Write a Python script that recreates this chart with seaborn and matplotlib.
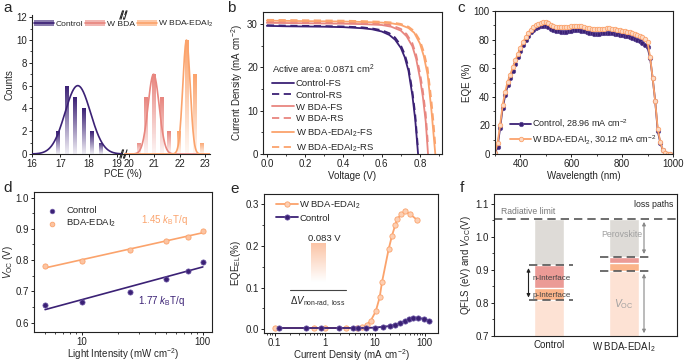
import numpy as np
import matplotlib
matplotlib.use("Agg")
import matplotlib.pyplot as plt
import seaborn as sns
from matplotlib.colors import LinearSegmentedColormap, to_rgb
from matplotlib.lines import Line2D
from matplotlib.patches import Patch
from matplotlib.legend_handler import HandlerTuple
from matplotlib.ticker import MultipleLocator, FuncFormatter, NullFormatter, LogLocator

# ---------------- data ----------------
# a: PCE histograms (bin centre / counts) and gaussian fit parameters (centre, sigma, height)
ctrl_pce = [16.92, 17.22, 17.52, 17.82, 18.12, 18.42]
ctrl_counts = [2, 6, 5, 4, 2, 1]
bda_pce = [20.37, 20.67, 20.97, 21.27, 21.57]
bda_counts = [1, 5, 7, 5, 2]
edai_pce = [21.97, 22.27, 22.57, 22.87]
edai_counts = [2, 10, 7, 1]
ctrl_fit = (17.62, 0.45, 6.0)
bda_fit = (20.97, 0.22, 7.0)
edai_fit = (22.27, 0.145, 10.0)

# b: J-V curves
v_ctrl = [0.0, 0.1, 0.2, 0.3, 0.4, 0.5, 0.55, 0.6, 0.64, 0.67, 0.70, 0.72, 0.74, 0.76, 0.775, 0.79]
j_ctrl_fs = [29.6, 29.5, 29.45, 29.4, 29.3, 29.05, 28.8, 28.3, 27.5, 26.4, 24.5, 22.4, 19.2, 13.6, 8.0, 0.0]
j_ctrl_rs = [29.75, 29.65, 29.6, 29.55, 29.45, 29.25, 29.0, 28.6, 27.9, 26.9, 25.1, 23.1, 20.0, 14.6, 9.2, 1.0]
v_bda = [0.0, 0.1, 0.2, 0.3, 0.4, 0.5, 0.6, 0.65, 0.7, 0.73, 0.76, 0.78, 0.80, 0.815, 0.83, 0.842]
j_bda_fs = [30.3, 30.25, 30.2, 30.15, 30.1, 30.0, 29.8, 29.4, 28.5, 27.2, 24.9, 22.0, 17.5, 13.2, 7.5, 0.0]
j_bda_rs = [30.6, 30.55, 30.5, 30.45, 30.4, 30.3, 30.1, 29.75, 28.9, 27.7, 25.6, 22.9, 18.7, 14.6, 9.2, 2.0]
v_edai = [0.0, 0.1, 0.2, 0.3, 0.4, 0.5, 0.6, 0.65, 0.7, 0.74, 0.77, 0.80, 0.82, 0.84, 0.86, 0.87, 0.88]
j_edai_fs = [30.8, 30.75, 30.7, 30.65, 30.6, 30.5, 30.35, 30.2, 29.8, 29.1, 28.0, 25.5, 22.6, 18.3, 10.0, 5.0, 0.0]
j_edai_rs = [31.0, 30.95, 30.9, 30.85, 30.8, 30.7, 30.55, 30.4, 30.05, 29.4, 28.4, 26.2, 23.6, 19.8, 12.2, 7.5, 2.0]

# c: EQE spectra, 300-990 nm every 10 nm
wl = np.arange(300, 1000, 10)
eqe_ctrl = [0.5, 5, 18, 32, 41, 48, 53, 58, 63, 68,
            72, 76, 79.5, 82.5, 85, 87, 88, 88.8, 89.3, 89.5,
            89.3, 88.5, 87.5, 86.7, 86.2, 85.9, 85.6, 85.4, 85.5, 85.8,
            86.2, 86.5, 86.7, 86.6, 86.2, 85.7, 85.2, 84.8, 84.4, 84.1,
            84.0, 84.1, 84.3, 84.5, 84.7, 84.7, 84.4, 84.0, 83.6, 83.3,
            83.1, 82.8, 82.4, 82.0, 81.4, 80.7, 80.0, 79.0, 77.8, 76.3,
            74.5, 67, 53, 37, 16, 8, 2.5, 0.6, 0.1, 0]
eqe_edai = [1, 7.5, 20, 34, 43.5, 50.5, 55.5, 60.5, 65.5, 70,
            74, 78, 81.5, 84.5, 87, 89, 90.3, 91.2, 91.8, 92.1,
            92.0, 91.3, 90.4, 89.6, 89.1, 88.8, 88.6, 88.5, 88.6, 88.9,
            89.3, 89.6, 89.8, 89.7, 89.4, 88.9, 88.4, 88.0, 87.6, 87.3,
            87.2, 87.2, 87.4, 87.6, 87.8, 87.8, 87.5, 87.1, 86.8, 86.5,
            86.3, 86.0, 85.6, 85.2, 84.7, 84.1, 83.5, 82.7, 81.7, 80.3,
            78.0, 68, 53, 37, 17.5, 8.5, 2.8, 0.7, 0.2, 0]

# d: Voc vs light intensity
light_int = [5, 10, 25, 50, 75, 100]
voc_ctrl = [0.656, 0.667, 0.698, 0.740, 0.764, 0.795]
voc_edai = [0.780, 0.797, 0.833, 0.861, 0.873, 0.894]

# e: EQE_EL vs current density
cd_edai = [0.1, 0.6, 1.0, 2.7, 4.5, 5.5, 7.0, 8.3, 10.5, 12.6, 14.0, 19.0, 22.2, 25.9, 28.3, 34.2, 41.1, 51.8, 70.2]
eqel_edai = [0.003, 0.003, 0.003, 0.003, 0.003, 0.005, 0.011, 0.02, 0.043, 0.077, 0.113, 0.192, 0.225,
             0.251, 0.265, 0.277, 0.283, 0.276, 0.263]
cd_ctrl = [0.12, 0.42, 0.86, 1.93, 3.6, 4.6, 6.8, 10.0, 14.9, 20.6, 25.5, 31.6, 39.8, 48.6, 59.4, 73.8, 98, 121]
eqel_ctrl = [0.003, 0.003, 0.003, 0.003, 0.003, 0.003, 0.003, 0.004, 0.006, 0.008, 0.011, 0.015, 0.02,
             0.025, 0.027, 0.027, 0.025, 0.021]

# f: loss paths (segment tops)
f_groups = ["Control", "W BDA-EDAI$_2$"]
rad_limit = [1.054, 1.054]
n_top = [0.914, 0.94]
p_top = [0.844, 0.92]
voc_f = [0.808, 0.897]

# ---------------- style ----------------
sns.set_theme(style="ticks")
plt.rcParams.update({
    "font.family": ["Liberation Sans", "DejaVu Sans"],
    "mathtext.fontset": "custom",
    "mathtext.rm": "Liberation Sans",
    "mathtext.it": "Liberation Sans:italic",
    "mathtext.bf": "Liberation Sans:bold",
    "font.size": 7,
    "axes.labelsize": 7,
    "xtick.labelsize": 7,
    "ytick.labelsize": 7,
    "legend.fontsize": 6.8,
    "axes.linewidth": 0.8,
    "axes.edgecolor": "#222222",
    "xtick.color": "#222222",
    "ytick.color": "#222222",
    "xtick.major.size": 2.5, "ytick.major.size": 2.5,
    "xtick.minor.size": 1.5, "ytick.minor.size": 1.5,
    "xtick.major.width": 0.7, "ytick.major.width": 0.7,
    "xtick.minor.width": 0.6, "ytick.minor.width": 0.6,
    "xtick.major.pad": 1.2, "ytick.major.pad": 1.2,
    "axes.labelpad": 1.5,
})

PURPLE = "#3b2175"
SALMON = "#e8867f"
ORANGE = "#fba36c"

W, H = 685, 363
fig = plt.figure(figsize=(6.85, 3.63), dpi=100)


def box(l, t, r, b):
    return [l / W, 1 - b / H, (r - l) / W, (b - t) / H]


def tint(c, f):
    r = np.array(to_rgb(c))
    return tuple(1 - f * (1 - r))


def gradient_bars(ax, xs, hs, color, width):
    bars = ax.bar(xs, hs, width=width, color="none", edgecolor="none", zorder=2)
    cmap = LinearSegmentedColormap.from_list("g", [tint(color, 0.08), color])
    grad = np.linspace(0, 1, 64).reshape(-1, 1)
    for b in bars:
        x0, y0 = b.get_x(), b.get_y()
        im = ax.imshow(grad, cmap=cmap, origin="lower", aspect="auto", zorder=2,
                       extent=(x0, x0 + b.get_width(), y0, y0 + b.get_height()))
        im.set_clip_path(b)


def gauss_curve(ax, fit, lo, hi, color):
    mu, sig, amp = fit
    xx = np.linspace(lo, hi, 300)
    sns.lineplot(x=xx, y=amp * np.exp(-(xx - mu) ** 2 / (2 * sig ** 2)), ax=ax, color=color, lw=1.2, zorder=3)


# ---------------- a ----------------
axL = fig.add_axes(box(32, 15, 123, 154))
axR = fig.add_axes(box(124, 15, 210, 154))
gradient_bars(axL, ctrl_pce, ctrl_counts, PURPLE, 0.11)
gradient_bars(axR, bda_pce, bda_counts, SALMON, 0.12)
gradient_bars(axR, edai_pce, edai_counts, ORANGE, 0.12)
gauss_curve(axL, ctrl_fit, 16.0, 19.22, PURPLE)
gauss_curve(axR, bda_fit, 19.8, 23.2, SALMON)
gauss_curve(axR, edai_fit, 19.8, 23.2, ORANGE)
axL.set_xlim(16, 19.22)
axR.set_xlim(19.8, 23.2)
for a_ in (axL, axR):
    a_.set_ylim(0, 12.2)
    a_.spines[["top", "right"]].set_visible(False)
axR.spines["left"].set_visible(False)
axR.tick_params(axis="y", left=False, labelleft=False)
axL.xaxis.set_major_locator(MultipleLocator(1))
axR.xaxis.set_major_locator(MultipleLocator(1))
axL.yaxis.set_major_locator(MultipleLocator(2))
axL.yaxis.set_minor_locator(MultipleLocator(1))
axL.set_ylabel("Counts")
axL.set_xlabel("PCE (%)")
axL.xaxis.set_label_coords(1.0, -0.11)
for a_, xx in ((axL, 1.0), (axR, 0.0)):
    for yy in (0, 1):
        for dx in (-0.02, 0.02):
            a_.plot([xx + dx - 0.015, xx + dx + 0.015], [yy - 0.03, yy + 0.03], transform=a_.transAxes,
                    color="#222222", lw=0.8, clip_on=False)
leg_a = [(Patch(facecolor=tint(c, 0.6), edgecolor="none"), Line2D([], [], color=c, lw=1.2)) for c in (PURPLE, SALMON, ORANGE)]
fig.legend(leg_a, ["Control", "W BDA", "W BDA-EDAI$_2$"], handler_map={tuple: HandlerTuple(ndivide=1)},
           loc="center", bbox_to_anchor=(124 / W, 1 - 24 / H), ncol=3, frameon=False, handlelength=2.3,
           columnspacing=0.3, handletextpad=0.2, fontsize=6.1)

# ---------------- b ----------------
axb = fig.add_axes(box(263, 12, 442, 154))
dash = (0, (4, 2.5))
jv = [("Control-FS", v_ctrl, j_ctrl_fs, PURPLE, "-"),
      ("Control-RS", v_ctrl, j_ctrl_rs, PURPLE, dash),
      ("W BDA-FS", v_bda, j_bda_fs, SALMON, "-"),
      ("W BDA-RS", v_bda, j_bda_rs, SALMON, dash),
      ("W BDA-EDAI$_2$-FS", v_edai, j_edai_fs, ORANGE, "-"),
      ("W BDA-EDAI$_2$-RS", v_edai, j_edai_rs, ORANGE, dash)]
for lab, v, j, c, ls in jv:
    sns.lineplot(x=v, y=j, ax=axb, color=c, linestyle=ls, lw=1.3, label=lab, sort=False, estimator=None)
axb.set_xlim(-0.02, 0.915)
axb.set_ylim(0, 32.8)
axb.xaxis.set_major_locator(MultipleLocator(0.2))
axb.xaxis.set_minor_locator(MultipleLocator(0.1))
axb.yaxis.set_major_locator(MultipleLocator(10))
axb.yaxis.set_minor_locator(MultipleLocator(5))
axb.set_xlabel("Voltage (V)")
axb.set_ylabel("Current Density (mA cm$^{-2}$)")
leg = axb.legend(title="Active area: 0.0871 cm$^2$", loc="lower left", bbox_to_anchor=(0.0, -0.06), frameon=False,
                 handlelength=2.4, labelspacing=0.3, handletextpad=0.15, title_fontsize=6.8)
leg._legend_box.align = "left"

# ---------------- c ----------------
axc = fig.add_axes(box(495, 11, 673, 154))
sns.lineplot(x=wl, y=eqe_ctrl, ax=axc, color=PURPLE, lw=1.3, marker="o", markersize=3.2,
             markerfacecolor=PURPLE, markeredgecolor="#5b4593", markeredgewidth=0.5,
             label="Control, 28.96 mA cm$^{-2}$")
sns.lineplot(x=wl, y=eqe_edai, ax=axc, color=ORANGE, lw=1.3, marker="o", markersize=3.2,
             markerfacecolor="#fdd9c3", markeredgecolor=ORANGE, markeredgewidth=0.6,
             label="W BDA-EDAI$_2$, 30.12 mA cm$^{-2}$")
axc.set_xlim(300, 1000)
axc.set_ylim(0, 100)
axc.xaxis.set_major_locator(MultipleLocator(200))
axc.xaxis.set_minor_locator(MultipleLocator(100))
axc.yaxis.set_major_locator(MultipleLocator(20))
axc.yaxis.set_minor_locator(MultipleLocator(10))
axc.set_xlabel("Wavelength (nm)")
axc.set_ylabel("EQE (%)")
axc.legend(loc="lower left", bbox_to_anchor=(0.04, 0.0), frameon=False, handlelength=2.3,
           handletextpad=0.1, labelspacing=0.35, fontsize=6.5)

# ---------------- d ----------------
axd = fig.add_axes(box(34, 192, 212, 332))
axd.set_xscale("log")
sns.regplot(x=light_int, y=voc_ctrl, logx=True, ci=None, scatter=False, truncate=True, ax=axd,
            line_kws=dict(color=PURPLE, lw=1.2))
sns.regplot(x=light_int, y=voc_edai, logx=True, ci=None, scatter=False, truncate=True, ax=axd,
            line_kws=dict(color=ORANGE, lw=1.2))
sns.scatterplot(x=light_int, y=voc_ctrl, ax=axd, color=PURPLE, edgecolor="#6f5aa8", linewidth=0.5, s=14,
                label="Control", zorder=4)
sns.scatterplot(x=light_int, y=voc_edai, ax=axd, color="#fcc4a2", edgecolor=ORANGE, linewidth=0.6, s=14,
                label="BDA-EDAI$_2$", zorder=4)
axd.set_xlim(4.05, 119)
axd.set_ylim(0.57, 1.018)
axd.xaxis.set_major_locator(LogLocator(base=10))
axd.xaxis.set_minor_locator(LogLocator(base=10, subs=np.arange(2, 10)))
axd.xaxis.set_major_formatter(FuncFormatter(lambda v, p: f"{v:g}"))
axd.xaxis.set_minor_formatter(NullFormatter())
axd.yaxis.set_major_locator(MultipleLocator(0.1))
axd.yaxis.set_minor_locator(MultipleLocator(0.05))
axd.set_xlabel("Light Intensity (mW cm$^{-2}$)", labelpad=-0.5)
axd.set_ylabel("$V_{\\rm OC}$ (V)", labelpad=0.5)
axd.legend(loc="upper left", bbox_to_anchor=(0.0, 0.96), frameon=False, handletextpad=0.5,
           labelspacing=0.2, markerscale=0.9)
axd.text(0.866, 0.8, "1.45 $k_{\\rm B}$T/q", color=ORANGE, transform=axd.transAxes, ha="right", va="center", fontsize=7)
axd.text(0.85, 0.22, "1.77 $k_{\\rm B}$T/q", color=PURPLE, transform=axd.transAxes, ha="right", va="center", fontsize=7)

# ---------------- e ----------------
axe = fig.add_axes(box(264, 194, 438, 333))
axe.set_xscale("log")
sns.lineplot(x=cd_edai, y=eqel_edai, ax=axe, color=ORANGE, lw=1.3, marker="o", markersize=3.8,
             markerfacecolor="#fdcfb3", markeredgecolor=ORANGE, markeredgewidth=0.6,
             label="W BDA-EDAI$_2$", sort=False, estimator=None)
sns.lineplot(x=cd_ctrl, y=eqel_ctrl, ax=axe, color=PURPLE, lw=1.3, marker="o", markersize=3.8,
             markerfacecolor=PURPLE, markeredgecolor="#6f5aa8", markeredgewidth=0.5,
             label="Control", sort=False, estimator=None)
axe.set_xlim(0.061, 185)
axe.set_ylim(-0.009, 0.325)
axe.xaxis.set_major_locator(LogLocator(base=10))
axe.xaxis.set_minor_locator(LogLocator(base=10, subs=np.arange(2, 10)))
axe.xaxis.set_major_formatter(FuncFormatter(lambda v, p: f"{v:g}"))
axe.xaxis.set_minor_formatter(NullFormatter())
axe.yaxis.set_major_locator(MultipleLocator(0.1))
axe.yaxis.set_minor_locator(MultipleLocator(0.05))
axe.set_xlabel("Current Density (mA cm$^{-2}$)", labelpad=-0.5)
axe.set_ylabel("EQE$_{\\rm EL}$(%)")
axe.legend(loc="upper left", bbox_to_anchor=(0.02, 1.03), frameon=False, handlelength=2.3,
           handletextpad=0.15, labelspacing=0.3)
gax = axe.inset_axes([0.27, 0.366, 0.086, 0.278])
gax.imshow(np.linspace(0, 1, 64).reshape(-1, 1), origin="lower", aspect="auto",
           cmap=LinearSegmentedColormap.from_list("e", ["#ffffff", "#fbc4a6"]))
gax.axis("off")
axe.text(0.345, 0.68, "0.083 V", transform=axe.transAxes, ha="center", va="center", fontsize=6.8)
axe.plot([0.149, 0.471], [0.309, 0.309], transform=axe.transAxes, color="#444444", lw=0.8)
axe.text(0.31, 0.225, "$\\Delta V_{\\rm non\\text{-}rad,\\ loss}$", transform=axe.transAxes, ha="center",
         va="center", fontsize=7)

# ---------------- f ----------------
axf = fig.add_axes(box(494, 194, 677, 336))
for vals, c in ((rad_limit, "#dedbd7"), (n_top, "#eb9b96"), (p_top, "#fbb48a"), (voc_f, "#fde2d4")):
    sns.barplot(x=f_groups, y=vals, ax=axf, color=c, width=0.4, saturation=1, errorbar=None)
axf.set_xlim(-0.73, 1.71)
axf.set_ylim(0.7, 1.13)
axf.yaxis.set_major_locator(MultipleLocator(0.1))
axf.yaxis.set_minor_locator(MultipleLocator(0.05))
axf.tick_params(axis="x", length=0, pad=3)
axf.set_ylabel("QFLS (eV) and $V_{\\rm OC}$(V)")
dkw = dict(color="#555555", lw=1.2, linestyle=(0, (5, 3)))
axf.axhline(rad_limit[0], **dkw)
axf.hlines([n_top[0], voc_f[0]], -0.26, 0.32, **dkw)
axf.hlines([n_top[1], voc_f[1]], 0.68, 1.33, **dkw)
axf.annotate("", xy=(-0.27, voc_f[0]), xytext=(-0.27, n_top[0]),
             arrowprops=dict(arrowstyle="<|-|>", color="#222222", lw=0.8, mutation_scale=5))
axf.annotate("", xy=(1.27, n_top[1]), xytext=(1.27, rad_limit[1]),
             arrowprops=dict(arrowstyle="<|-|>", color="#888888", lw=0.8, mutation_scale=5))
axf.annotate("", xy=(1.27, 0.7), xytext=(1.27, voc_f[1]),
             arrowprops=dict(arrowstyle="<|-|>", color="#888888", lw=0.8, mutation_scale=5))
axf.text(-0.21, 0.874, "n-Interface", ha="left", va="center", color="#444444", fontsize=5.8)
axf.text(-0.21, 0.824, "p-Interface", ha="left", va="center", color="#444444", fontsize=5.8)
axf.text(0.97, 1.007, "Perovskite", ha="center", va="center", color="#a0a0a0", fontsize=6.3)
axf.text(1.0, 0.796, "$V_{\\rm OC}$", ha="center", va="center", color="#a0a0a0", fontsize=7.5)
axf.text(-0.64, 1.077, "Radiative limit", ha="left", va="center", color="#777777", fontsize=6.2)
axf.text(0.98, 0.96, "loss paths", transform=axf.transAxes, ha="right", va="top", fontsize=6.3)

# panel letters
for s, x, y in (("a", 3, 1), ("b", 227, 1), ("c", 457, 1), ("d", 3, 181), ("e", 230, 182), ("f", 460, 181)):
    fig.text(x / W, 1 - y / H, s, ha="left", va="top", fontsize=11)

fig.savefig("out.png", dpi=100)
